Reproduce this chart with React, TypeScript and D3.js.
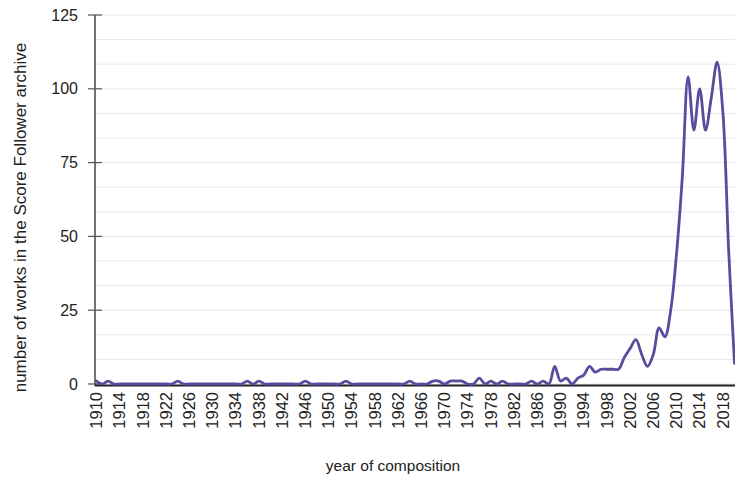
import React from "react";
import * as d3 from "d3";

const years: number[] = d3.range(1910, 2021);
const counts: number[] = [
  // 1910-1919
  1, 0, 1, 0, 0, 0, 0, 0, 0, 0,
  // 1920-1929
  0, 0, 0, 0, 1, 0, 0, 0, 0, 0,
  // 1930-1939
  0, 0, 0, 0, 0, 0, 1, 0, 1, 0,
  // 1940-1949
  0, 0, 0, 0, 0, 0, 1, 0, 0, 0,
  // 1950-1959
  0, 0, 0, 1, 0, 0, 0, 0, 0, 0,
  // 1960-1969
  0, 0, 0, 0, 1, 0, 0, 0, 1, 1,
  // 1970-1979
  0, 1, 1, 1, 0, 0, 2, 0, 1, 0,
  // 1980-1989
  1, 0, 0, 0, 0, 1, 0, 1, 0, 6,
  // 1990-1999
  1, 2, 0, 2, 3, 6, 4, 5, 5, 5,
  // 2000-2009
  5, 9, 12, 15, 10, 6, 10, 19, 16, 25,
  // 2010-2019
  44, 70, 104, 86, 100, 86, 97, 109, 92, 45,
  // 2020
  7,
];
const yTicks: number[] = [0, 25, 50, 75, 100, 125];
const xTickYears: number[] = d3.range(1910, 2019, 4);
const xTitle = "year of composition";
const yTitle = "number of works in the Score Follower archive";

const W = 735;
const H = 477;
const FONT = "Liberation Sans, Arial, sans-serif";

export default function App() {
  const x = d3.scaleLinear().domain([1910, 2020]).range([96.5, 734.5]);
  const y = d3.scaleLinear().domain([0, 125]).range([384, 15]);
  const gridVals = d3.range(0, 125.01, 25 / 3);
  const data = years.map((yr, i) => ({ yr, v: counts[i] }));
  const line = d3
    .line<{ yr: number; v: number }>()
    .x((d) => x(d.yr))
    .y((d) => y(d.v))
    .curve(d3.curveCatmullRom.alpha(0.5));
  const axisX = 95;
  return (
    <svg
      width={W}
      height={H}
      style={{ position: "absolute", left: 0, top: 0, background: "#fff" }}
      fontFamily={FONT}
    >
      {gridVals.map((g, i) => (
        <line
          key={"g" + i}
          x1={axisX + 1}
          x2={W}
          y1={y(g)}
          y2={y(g)}
          stroke="#e8e8e8"
          strokeWidth={1}
        />
      ))}
      {/* y axis */}
      <line x1={axisX} x2={axisX} y1={y(125)} y2={y(0) + 2} stroke="#444" strokeWidth={1.5} />
      {yTicks.map((t) => (
        <g key={"yt" + t}>
          <line x1={axisX - 7} x2={axisX + 7} y1={y(t)} y2={y(t)} stroke="#555" strokeWidth={1.2} />
          <text
            x={78}
            y={y(t)}
            dy="0.35em"
            textAnchor="end"
            fontSize={16}
            fill="#222"
          >
            {t}
          </text>
        </g>
      ))}
      {/* x axis */}
      <line x1={axisX} x2={W} y1={y(0) + 1.5} y2={y(0) + 1.5} stroke="#222" strokeWidth={2} />
      {xTickYears.map((t) => (
        <text
          key={"xt" + t}
          transform={`translate(${x(t)},${392}) rotate(-90)`}
          dy="0.35em"
          textAnchor="end"
          fontSize={16.5}
          fill="#222"
        >
          {t}
        </text>
      ))}
      <path
        d={line(data) || ""}
        fill="none"
        stroke="#5a4b9e"
        strokeWidth={2.8}
        strokeLinejoin="round"
        strokeLinecap="round"
      />
      <text x={393} y={471} textAnchor="middle" fontSize={15.5} fill="#222">
        {xTitle}
      </text>
      <text
        transform={`translate(26,${217.5}) rotate(-90)`}
        textAnchor="middle"
        fontSize={17}
        fill="#222"
      >
        {yTitle}
      </text>
    </svg>
  );
}
